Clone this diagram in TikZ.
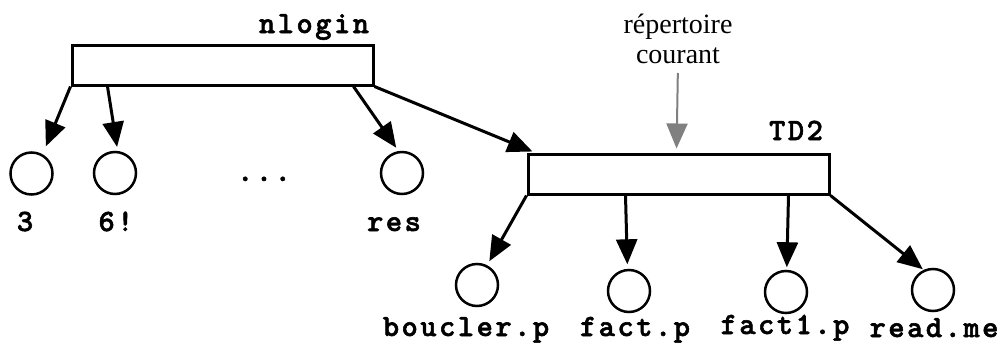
\documentclass[tikz,border=0pt]{standalone}
\usepackage{fontspec}
\setmainfont{Liberation Serif}
\newfontfamily\cour{lmmonolt10-bold.otf}[LetterSpace=8, FakeBold=1.8]
\usetikzlibrary{arrows.meta}
\begin{document}
\begin{tikzpicture}[x=1pt,y=-1pt,
  dirbox/.style={draw=black, line width=3pt, fill=white, minimum width=301pt, minimum height=40pt, inner sep=0pt},
  file/.style={draw=black, line width=2.5pt, circle, minimum size=42pt, inner sep=0pt},
  lab/.style={anchor=base, inner sep=0pt, font=\cour\fontsize{31}{34}\selectfont},
  serif/.style={anchor=base, inner sep=0pt, font=\fontsize{28}{30}\selectfont},
  link/.style={line width=3pt, -{Triangle[length=25pt,width=21pt]}},
  glink/.style={line width=2pt, draw=gray, -{Triangle[length=25pt,width=21pt]}, gray}]
\useasboundingbox (0,0) rectangle (1001,343);
% boxes
\node[dirbox] (nlogin) at (222.5,65) {};
\node[dirbox] (td2) at (678.5,174) {};
\node[lab] (tnlogin) at (314,33) {nlogin};
\node[lab] (ttd2) at (796,140) {TD2};
% circles
\node[file] (c3) at (31.5,173.5) {};
\node[file] (c6) at (115,173) {};
\node[file] (cres) at (402,173) {};
\node[file] (cb) at (477,285) {};
\node[file] (cf) at (629,291) {};
\node[file] (cf1) at (786,292) {};
\node[file] (cr) at (933,290) {};
% labels
\node[lab] (l3) at (25,231) {3};
\node[lab] (l6) at (116,231) {6!};
\node[lab] (lres) at (394,231) {res};
\node[lab] (dots) at (264,181) {...};
\node[lab] (lb) at (466,336) {boucler.p};
\node[lab] (lf) at (635,336) {fact.p};
\node[lab] (lf1) at (785,334) {fact1.p};
\node[lab] (lr) at (934,337) {read.me};
\node[serif] (rep1) at (678,33) {répertoire};
\node[serif] (rep2) at (678,63) {courant};
% connectors
\draw[link, shorten >=8.5pt] (nlogin.south west) -- (c3.60);
\draw[link, shorten >=4pt] ([xshift=37pt]nlogin.south west) -- (c6.83);
\draw[link, shorten >=4pt] ([xshift=-21pt]nlogin.south east) -- (cres.99);
\draw[link] (nlogin.south east) -- ([xshift=6pt,yshift=1pt]td2.north west);
\draw[link, shorten >=4.5pt] (td2.south west) -- (cb.63);
\draw[link, shorten >=4.5pt] ([xshift=99pt]td2.south west) -- (cf.94);
\draw[link, shorten >=2.5pt] ([xshift=-42pt]td2.south east) -- (cf1.88);
\draw[link, shorten >=1pt] (td2.south east) -- (cr.115);
\draw[glink, shorten <=10pt, shorten >=4pt] (rep2.base) -- ([xshift=150pt]td2.north west);
\end{tikzpicture}
\end{document}
